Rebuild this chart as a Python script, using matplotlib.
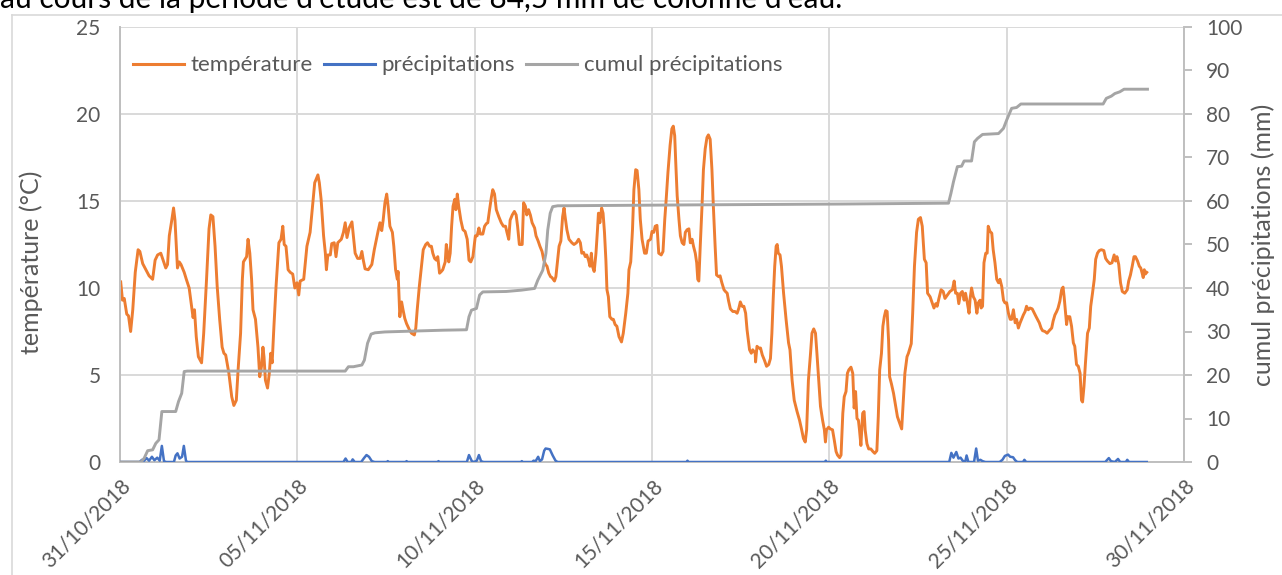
import matplotlib.pyplot as plt
from matplotlib.lines import Line2D

plt.rcParams['font.family'] = ['Lato', 'DejaVu Sans']

# jours depuis le 31/10/2018 00h
temp_day = [0.02, 0.07, 0.12, 0.19, 0.24, 0.30, 0.36, 0.43, 0.51, 0.56, 0.64, 0.73, 0.82, 0.92, 0.99,
            1.06, 1.15, 1.20, 1.29, 1.34, 1.39, 1.46, 1.51, 1.55, 1.62, 1.67, 1.72, 1.81, 1.87, 1.95,
            2.02, 2.06, 2.10, 2.15, 2.21, 2.30, 2.36, 2.44, 2.51, 2.56, 2.62, 2.68, 2.74, 2.81, 2.88,
            2.93, 2.98, 3.07, 3.15, 3.21, 3.28, 3.33, 3.40, 3.45, 3.48, 3.57, 3.61, 3.66, 3.71, 3.75,
            3.82, 3.89, 3.94, 3.99, 4.03, 4.06, 4.10, 4.16, 4.21, 4.25, 4.29, 4.34, 4.40, 4.48, 4.54,
            4.59, 4.63, 4.68, 4.74, 4.80, 4.87, 4.93, 4.99, 5.04, 5.08, 5.18, 5.27, 5.36, 5.43, 5.49,
            5.53, 5.58, 5.62, 5.67, 5.74, 5.79, 5.82, 5.86, 5.93, 5.97, 6.04, 6.09, 6.14, 6.24, 6.30,
            6.35, 6.40, 6.46, 6.54, 6.58, 6.63, 6.70, 6.77, 6.82, 6.86, 6.91, 7.00, 7.10, 7.17, 7.28,
            7.33, 7.38, 7.42, 7.47, 7.52, 7.56, 7.61, 7.68, 7.72, 7.77, 7.82, 7.84, 7.89, 7.94, 7.98,
            8.03, 8.08, 8.16, 8.22, 8.30, 8.34, 8.38, 8.44, 8.50, 8.55, 8.62, 8.67, 8.73, 8.78, 8.82,
            8.87, 8.92, 8.96, 9.01, 9.06, 9.10, 9.17, 9.20, 9.24, 9.27, 9.31, 9.35, 9.39, 9.44, 9.47,
            9.51, 9.55, 9.61, 9.67, 9.73, 9.79, 9.84, 9.89, 9.95, 10.02, 10.07, 10.12, 10.16, 10.23, 10.28,
            10.33, 10.37, 10.42, 10.47, 10.51, 10.56, 10.61, 10.68, 10.75, 10.81, 10.87, 10.91, 10.96, 11.00, 11.06,
            11.12, 11.17, 11.21, 11.26, 11.34, 11.38, 11.43, 11.47, 11.52, 11.57, 11.62, 11.69, 11.73, 11.79, 11.84,
            11.90, 11.95, 12.00, 12.04, 12.09, 12.14, 12.18, 12.25, 12.29, 12.34, 12.38, 12.43, 12.48, 12.52, 12.55,
            12.60, 12.66, 12.74, 12.80, 12.87, 12.93, 12.98, 13.02, 13.07, 13.12, 13.16, 13.21, 13.25, 13.29, 13.32,
            13.37, 13.42, 13.46, 13.49, 13.53, 13.58, 13.62, 13.66, 13.70, 13.73, 13.77, 13.81, 13.87, 13.91, 13.96,
            14.01, 14.07, 14.14, 14.19, 14.26, 14.32, 14.35, 14.40, 14.45, 14.49, 14.54, 14.58, 14.63, 14.67, 14.72,
            14.79, 14.84, 14.89, 14.96, 15.00, 15.05, 15.09, 15.14, 15.19, 15.26, 15.31, 15.36, 15.40, 15.45, 15.51,
            15.56, 15.60, 15.64, 15.67, 15.71, 15.76, 15.80, 15.85, 15.90, 15.94, 15.99, 16.04, 16.08, 16.13, 16.17,
            16.22, 16.26, 16.29, 16.32, 16.36, 16.41, 16.45, 16.50, 16.55, 16.59, 16.64, 16.69, 16.73, 16.78, 16.82,
            16.88, 16.92, 16.97, 17.03, 17.07, 17.12, 17.16, 17.21, 17.28, 17.34, 17.40, 17.45, 17.49, 17.54, 17.59,
            17.64, 17.68, 17.75, 17.80, 17.84, 17.91, 17.92, 17.96, 18.01, 18.06, 18.11, 18.17, 18.23, 18.29, 18.34,
            18.38, 18.42, 18.46, 18.50, 18.53, 18.56, 18.61, 18.65, 18.71, 18.78, 18.85, 18.89, 18.95, 19.01, 19.09,
            19.16, 19.22, 19.27, 19.32, 19.36, 19.41, 19.47, 19.51, 19.56, 19.61, 19.65, 19.70, 19.75, 19.81, 19.86,
            19.89, 19.92, 19.98, 20.03, 20.09, 20.14, 20.19, 20.23, 20.29, 20.33, 20.38, 20.42, 20.47, 20.51, 20.55,
            20.61, 20.66, 20.70, 20.74, 20.78, 20.82, 20.85, 20.89, 20.94, 20.98, 21.01, 21.06, 21.11, 21.17, 21.23,
            21.28, 21.34, 21.38, 21.42, 21.47, 21.51, 21.55, 21.59, 21.63, 21.67, 21.70, 21.75, 21.81, 21.87, 21.92,
            21.99, 22.04, 22.07, 22.13, 22.19, 22.23, 22.31, 22.35, 22.40, 22.46, 22.51, 22.57, 22.62, 22.68, 22.73,
            22.77, 22.84, 22.90, 22.95, 23.00, 23.04, 23.09, 23.15, 23.21, 23.26, 23.33, 23.40, 23.47, 23.52, 23.56,
            23.61, 23.65, 23.70, 23.75, 23.80, 23.84, 23.89, 23.94, 23.97, 24.01, 24.06, 24.11, 24.16, 24.20, 24.25,
            24.28, 24.32, 24.36, 24.41, 24.45, 24.48, 24.53, 24.58, 24.62, 24.67, 24.72, 24.77, 24.81, 24.86, 24.91,
            24.95, 25.00, 25.05, 25.10, 25.14, 25.19, 25.24, 25.28, 25.33, 25.38, 25.42, 25.47, 25.52, 25.56, 25.61,
            25.66, 25.72, 25.78, 25.83, 25.87, 25.92, 25.97, 26.01, 26.08, 26.14, 26.20, 26.27, 26.31, 26.36, 26.41,
            26.45, 26.50, 26.55, 26.59, 26.62, 26.66, 26.69, 26.72, 26.78, 26.83, 26.88, 26.92, 26.97, 27.02, 27.07,
            27.11, 27.14, 27.18, 27.22, 27.28, 27.33, 27.37, 27.42, 27.47, 27.51, 27.56, 27.61, 27.67, 27.74, 27.79,
            27.84, 27.91, 27.97, 28.03, 28.07, 28.11, 28.16, 28.21, 28.26, 28.33, 28.40, 28.44, 28.49, 28.54, 28.59,
            28.63, 28.69, 28.74, 28.78, 28.82, 28.85, 28.88, 28.91, 28.95]
temp_val = [10.35, 9.3, 9.4, 8.5, 8.4, 7.5, 8.75, 10.9, 12.2, 12.1, 11.4, 11.05, 10.7, 10.5, 11.6,
            11.9, 12.0, 11.7, 11.15, 11.35, 13.0, 13.9, 14.6, 13.9, 11.15, 11.5, 11.35, 10.9, 10.5, 10.0,
            8.9, 8.3, 8.75, 7.2, 6.05, 5.7, 7.4, 10.5, 13.4, 14.2, 14.1, 12.4, 10.1, 8.2, 6.6,
            6.25, 6.15, 5.1, 3.75, 3.25, 3.55, 5.3, 7.4, 10.5, 11.5, 11.8, 12.8, 12.0, 10.5, 8.75,
            8.2, 6.6, 4.9, 5.5, 6.6, 6.05, 4.7, 4.25, 5.1, 6.25, 5.7, 7.8, 10.1, 12.6, 12.8,
            13.55, 12.5, 12.4, 11.05, 10.9, 10.8, 10.0, 10.3, 9.6, 10.4, 10.5, 12.4, 13.2, 14.7, 16.05,
            16.25, 16.5, 16.05, 15.1, 13.0, 12.0, 11.05, 11.9, 11.9, 12.55, 12.6, 11.8, 12.6, 12.8, 13.2,
            13.75, 12.9, 13.45, 13.8, 13.0, 12.0, 11.7, 11.7, 12.1, 11.6, 11.1, 11.05, 11.35, 12.2, 13.3,
            13.75, 13.3, 13.9, 14.9, 15.4, 14.7, 13.55, 13.2, 12.4, 11.05, 10.5, 10.95, 8.35, 9.2, 8.75,
            8.25, 7.95, 7.6, 7.4, 7.3, 7.7, 8.75, 10.1, 11.25, 12.2, 12.5, 12.6, 12.4, 12.4, 12.0,
            11.7, 11.6, 11.8, 10.85, 10.95, 11.05, 11.5, 12.5, 12.0, 11.5, 12.0, 13.55, 14.7, 15.1, 14.5,
            15.4, 14.7, 13.9, 13.35, 13.25, 12.8, 11.6, 11.5, 11.8, 13.0, 13.0, 13.45, 13.1, 13.1, 13.55,
            13.7, 13.75, 14.5, 15.2, 15.65, 15.4, 14.5, 14.1, 13.75, 13.55, 13.55, 13.2, 12.8, 13.9, 14.2,
            14.4, 14.2, 13.55, 12.5, 12.5, 14.9, 14.7, 14.2, 14.5, 14.2, 13.75, 13.45, 13.0, 12.7, 12.4,
            12.1, 11.6, 11.35, 11.25, 10.85, 10.65, 10.6, 10.4, 10.65, 11.6, 12.4, 12.7, 14.1, 14.6, 14.1,
            13.35, 12.8, 12.6, 12.5, 12.6, 12.8, 12.6, 12.0, 12.05, 11.8, 11.9, 11.6, 11.25, 12.0, 11.25,
            10.95, 12.0, 13.25, 14.3, 13.75, 14.6, 14.3, 13.2, 11.6, 9.9, 9.5, 8.35, 8.2, 8.2, 7.9,
            7.8, 7.2, 6.9, 7.4, 8.55, 9.7, 11.05, 11.5, 13.35, 15.65, 16.8, 16.75, 15.65, 13.95, 12.8,
            12.0, 12.0, 12.7, 12.8, 13.25, 13.2, 13.55, 13.6, 12.0, 11.9, 12.1, 13.95, 15.1, 16.65, 18.2,
            19.15, 19.3, 18.75, 17.2, 15.3, 13.95, 13.0, 12.6, 12.5, 13.2, 13.35, 13.4, 12.6, 12.8, 12.4,
            12.0, 11.45, 10.5, 10.4, 12.4, 14.7, 16.8, 18.0, 18.65, 18.8, 18.55, 16.8, 14.7, 12.4, 10.75,
            10.65, 10.7, 10.3, 9.9, 9.8, 9.7, 9.25, 8.8, 8.65, 8.65, 8.55, 8.85, 9.2, 8.95, 8.95,
            8.55, 7.6, 6.45, 6.25, 6.45, 6.25, 5.75, 6.65, 6.55, 6.55, 6.15, 5.85, 5.5, 5.6, 5.95,
            7.4, 9.5, 11.25, 12.4, 12.5, 12.0, 11.9, 11.25, 9.7, 8.2, 6.85, 6.45, 4.7, 3.55, 2.9,
            2.4, 1.85, 1.35, 1.15, 1.85, 4.7, 6.25, 7.4, 7.65, 7.4, 6.25, 4.7, 3.2, 2.4, 1.85,
            1.15, 1.85, 2.0, 1.9, 1.85, 1.25, 0.6, 0.4, 0.25, 0.4, 2.8, 3.75, 4.05, 5.1, 5.3,
            5.45, 5.1, 3.1, 4.05, 2.5, 2.4, 1.85, 0.95, 2.8, 2.9, 1.85, 1.05, 0.75, 0.75, 0.6,
            0.5, 0.65, 2.6, 5.3, 6.25, 7.8, 8.35, 8.7, 8.65, 7.0, 4.9, 4.5, 3.95, 3.2, 2.6,
            2.2, 1.9, 3.0, 5.1, 6.05, 6.25, 6.8, 8.55, 11.25, 13.2, 13.95, 14.05, 13.55, 11.65, 11.45,
            9.7, 9.5, 9.15, 8.85, 9.1, 8.95, 9.4, 9.9, 9.8, 9.4, 9.6, 9.8, 9.9, 10.4, 9.7,
            9.7, 9.1, 9.7, 9.8, 9.3, 9.7, 9.15, 8.55, 9.4, 10.0, 9.5, 9.3, 8.55, 9.15, 9.3,
            8.85, 8.95, 11.45, 12.0, 12.0, 13.55, 13.25, 13.15, 12.2, 11.45, 10.5, 10.3, 10.5, 10.1, 9.3,
            9.15, 9.15, 8.55, 8.2, 8.2, 8.75, 8.0, 8.2, 7.7, 8.0, 8.2, 8.45, 8.65, 8.95, 8.75,
            8.85, 8.8, 8.55, 8.35, 8.2, 8.0, 7.7, 7.55, 7.5, 7.4, 7.55, 7.7, 8.1, 8.45, 8.65,
            8.85, 9.25, 9.9, 10.05, 9.5, 8.55, 7.9, 8.35, 8.35, 7.8, 6.85, 6.65, 5.6, 5.5, 5.1,
            3.55, 3.45, 4.35, 5.65, 7.4, 7.7, 8.95, 9.7, 10.5, 11.65, 12.0, 12.15, 12.2, 12.15, 11.7,
            11.55, 11.4, 11.45, 11.9, 11.55, 11.8, 11.35, 10.3, 9.8, 9.7, 9.9, 10.4, 10.75, 11.25, 11.8,
            11.8, 11.55, 11.25, 11.15, 10.85, 10.6, 11.05, 10.8, 10.9]

precip_day = [0.0, 0.55, 0.62, 0.68, 0.75, 0.82, 0.90, 0.97, 1.05, 1.12, 1.18, 1.24, 1.30, 1.52, 1.57,
              1.62, 1.68, 1.75, 1.80, 1.86, 1.90, 6.30, 6.36, 6.42, 6.52, 6.56, 6.62, 6.80, 6.88, 6.95,
              7.02, 7.10, 7.18, 7.52, 7.55, 7.58, 8.05, 8.08, 8.11, 8.95, 8.98, 9.01, 9.78, 9.84, 9.92,
              9.98, 10.06, 10.12, 10.18, 10.25, 11.30, 11.33, 11.36, 11.62, 11.66, 11.72, 11.79, 11.84, 11.90, 11.96,
              12.00, 12.07, 12.12, 12.20, 12.28, 12.34, 15.97, 16.00, 16.03, 19.87, 19.90, 19.93, 23.38, 23.44, 23.50,
              23.58, 23.64, 23.70, 23.76, 23.83, 23.87, 23.92, 24.08, 24.14, 24.19, 24.26, 24.32, 24.40, 24.80, 24.88,
              24.95, 25.04, 25.10, 25.18, 25.24, 25.30, 25.46, 25.50, 25.55, 27.78, 27.88, 27.94, 28.05, 28.14, 28.20,
              28.36, 28.40, 28.45, 28.95]
precip_mm = [0.0, 0.0, 0.5, 0.3, 0.9, 0.3, 1.2, 0.4, 1.0, 0.3, 3.7, 0.2, 0.0, 0.0, 1.5,
             2.0, 0.8, 1.2, 3.7, 0.3, 0.0, 0.0, 0.8, 0.0, 0.0, 0.6, 0.0, 0.0, 0.9, 1.6,
             1.2, 0.2, 0.0, 0.0, 0.2, 0.0, 0.0, 0.2, 0.0, 0.0, 0.2, 0.0, 0.0, 1.6, 0.2,
             0.0, 0.3, 1.6, 0.2, 0.0, 0.0, 0.2, 0.0, 0.0, 0.3, 0.2, 1.2, 0.2, 0.6, 2.6,
             3.1, 3.0, 2.9, 1.5, 0.3, 0.0, 0.0, 0.3, 0.0, 0.0, 0.3, 0.0, 0.0, 2.1, 1.0,
             2.3, 0.8, 1.0, 0.3, 0.0, 1.5, 0.0, 0.0, 3.1, 0.3, 0.5, 0.2, 0.0, 0.0, 0.5,
             1.4, 1.7, 1.2, 1.1, 0.4, 0.0, 0.0, 0.5, 0.0, 0.0, 0.9, 0.2, 0.0, 0.7, 0.0,
             0.0, 0.5, 0.0, 0.0]

cumul_day = [0.0, 0.59, 0.68, 0.78, 0.92, 1.01, 1.10, 1.18, 1.57, 1.65, 1.74, 1.81, 1.90, 6.35, 6.44,
             6.58, 6.82, 6.89, 6.98, 7.08, 7.19, 7.47, 9.11, 9.77, 9.84, 9.91, 10.05, 10.14, 10.23, 10.89,
             11.31, 11.69, 11.78, 11.92, 12.01, 12.06, 12.13, 12.20, 12.34, 15.99, 20.33, 23.36, 23.43, 23.50, 23.61,
             23.73, 23.80, 24.01, 24.09, 24.18, 24.32, 24.77, 24.91, 25.00, 25.14, 25.28, 25.40, 27.72, 27.81, 27.95,
             28.05, 28.19, 28.31, 28.97]
cumul_mm = [0.0, 0.0, 0.85, 2.6, 2.8, 4.3, 5.1, 11.6, 11.6, 13.9, 15.8, 20.8, 20.9, 20.9, 21.9,
            21.9, 22.3, 23.4, 27.3, 29.4, 29.7, 29.9, 30.3, 30.4, 33.4, 34.9, 35.3, 38.4, 39.1, 39.2,
            39.5, 39.9, 41.8, 44.1, 48.0, 53.3, 57.2, 58.7, 58.9, 59.1, 59.3, 59.5, 61.8, 64.4, 67.9,
            68.0, 69.2, 69.2, 73.6, 74.4, 75.3, 75.5, 76.7, 78.6, 81.3, 81.5, 82.3, 82.3, 83.6, 84.1,
            84.7, 85.1, 85.7, 85.7]

date_ticks = [0, 5, 10, 15, 20, 25, 30]
date_labels = ['31/10/2018', '05/11/2018', '10/11/2018', '15/11/2018',
               '20/11/2018', '25/11/2018', '30/11/2018']

txt = '#595959'
grid_c = '#d9d9d9'
axis_c = '#bfbfbf'

fig = plt.figure(figsize=(12.82, 5.75), dpi=100)
W, H = 1282, 575
ax = fig.add_axes([120 / W, 113 / H, 1064 / W, 435 / H])
ax2 = ax.twinx()

ax.plot(temp_day, temp_val, color='#ED7D31', lw=2.1, solid_joinstyle='round')
ax2.plot(precip_day, precip_mm, color='#4472C4', lw=1.8)
ax2.plot(cumul_day, cumul_mm, color='#A5A5A5', lw=2.1)

ax.set_xlim(0, 30)
ax.set_ylim(0, 25)
ax2.set_ylim(0, 100)
ax.set_xticks(date_ticks)
ax.set_xticklabels(date_labels, rotation=45, ha='right', rotation_mode='anchor')
ax.set_yticks(range(0, 26, 5))
ax2.set_yticks(range(0, 101, 10))

ax.grid(True, color=grid_c, lw=1.4)
ax.set_axisbelow(True)
for s in ['top', 'right']:
    ax.spines[s].set_visible(False)
for s in ['top', 'left', 'bottom']:
    ax2.spines[s].set_visible(False)
ax.spines['left'].set_color(axis_c)
ax.spines['bottom'].set_color(axis_c)
ax.spines['left'].set_linewidth(1.4)
ax.spines['bottom'].set_linewidth(1.4)
ax2.spines['right'].set_color(axis_c)
ax2.spines['right'].set_linewidth(1.4)

ax.tick_params(axis='y', length=0, pad=14, labelsize=15, labelcolor=txt)
ax.tick_params(axis='x', length=0, pad=10, labelsize=15, labelcolor=txt)
ax2.tick_params(axis='y', length=6, width=1.4, color=axis_c, pad=10, labelsize=15, labelcolor=txt)

fig.text(31 / W, 1 - 262 / H, 'température (°C)', rotation=90, ha='center', va='center',
         fontsize=18, color=txt)
fig.text(1263 / W, 1 - 245 / H, 'cumul précipitations (mm)', rotation=90, ha='center', va='center',
         fontsize=18, color=txt)

handles = [Line2D([], [], color='#ED7D31', lw=2.2),
           Line2D([], [], color='#4472C4', lw=2.2),
           Line2D([], [], color='#A5A5A5', lw=2.2)]
ax2.legend(handles, ['température', 'précipitations', 'cumul précipitations'],
           loc='center left', bbox_to_anchor=(0.012, 0.912), ncol=3, frameon=False,
           fontsize=16, labelcolor=txt, handlelength=2.3, handletextpad=0.3,
           columnspacing=0.5, borderpad=0, borderaxespad=0)

# cadre du graphique et texte du document coupé en haut
fig.add_artist(Line2D([12 / W, 12 / W], [0, 1 - 15 / H], color=grid_c, lw=1.2))
fig.add_artist(Line2D([12 / W, 1], [1 - 15 / H, 1 - 15 / H], color=grid_c, lw=1.2))
fig.text(0.0, 1 - 8 / H, "au cours de la période d'étude est de 84,5 mm de colonne d'eau.",
         ha='left', va='baseline', fontsize=21.5, color='black')

fig.savefig('out.png', dpi=100)
